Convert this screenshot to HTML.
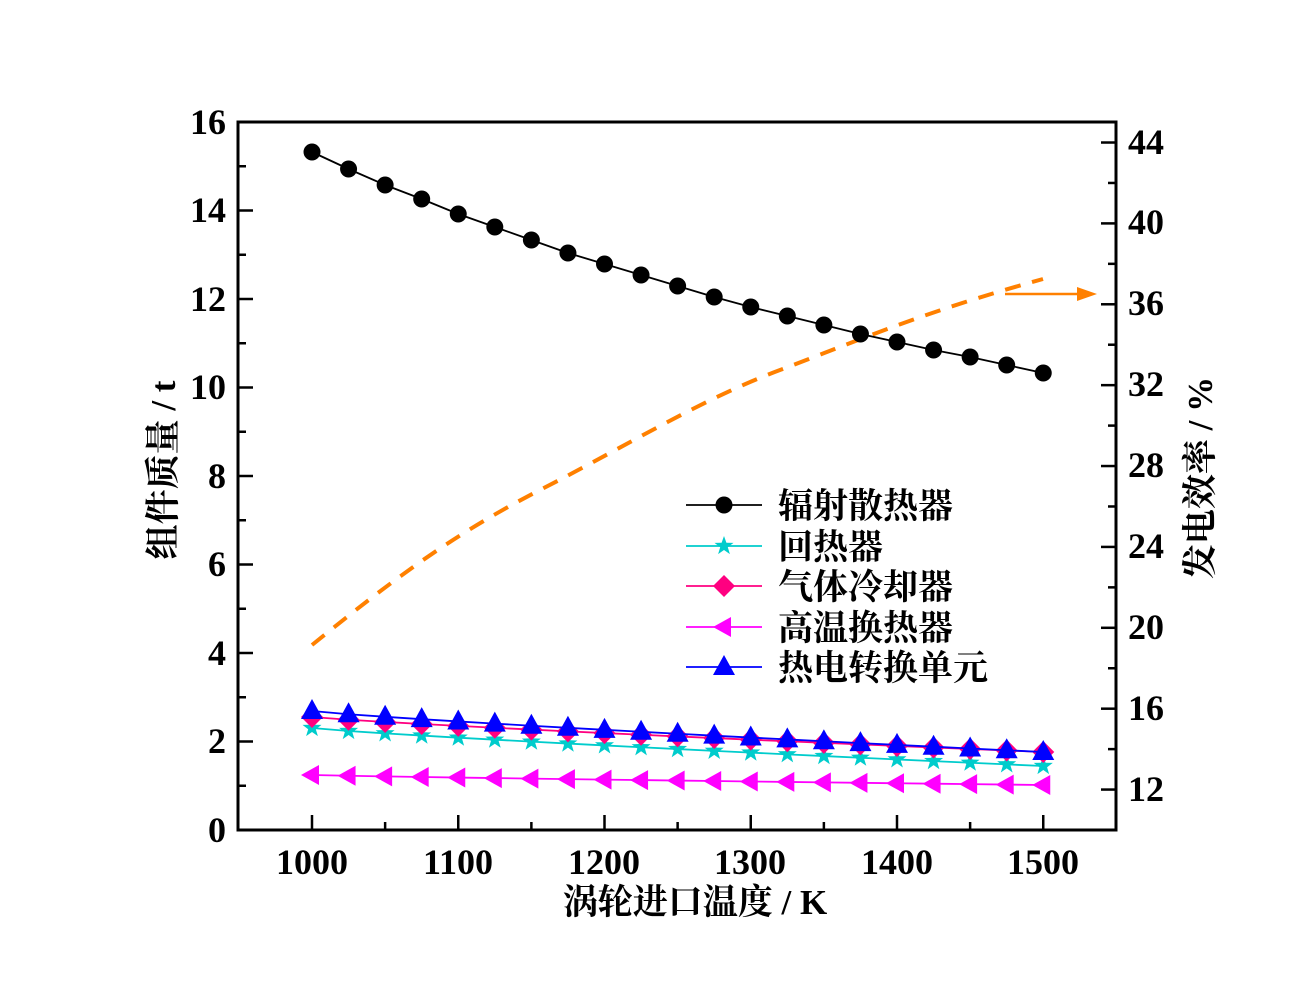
<!DOCTYPE html>
<html><head><meta charset="utf-8"><style>
html,body{margin:0;padding:0;background:#fff;}
svg{display:block;}
.t{font-family:"Liberation Serif","Noto Serif CJK SC",serif;font-size:36px;font-weight:bold;fill:#000;}
.c{font-family:"Liberation Serif","Noto Serif CJK SC",serif;font-size:35px;font-weight:bold;fill:#000;}
</style></head><body>
<svg id="s" width="1308" height="1004" viewBox="0 0 1308 1004" xmlns="http://www.w3.org/2000/svg">
<rect width="1308" height="1004" fill="#fff"/>
<g id="ticks" stroke="#000" stroke-width="2.5"></g>
<rect x="238" y="122" width="878" height="708" fill="none" stroke="#000" stroke-width="3"/>
<g class="t" text-anchor="end">
<text x="226" y="842">0</text><text x="226" y="753">2</text><text x="226" y="665">4</text><text x="226" y="576">6</text>
<text x="226" y="488">8</text><text x="226" y="399">10</text><text x="226" y="311">12</text><text x="226" y="222">14</text><text x="226" y="134">16</text>
</g>
<g class="t" text-anchor="start">
<text x="1128" y="801">12</text><text x="1128" y="720">16</text><text x="1128" y="639">20</text><text x="1128" y="558">24</text>
<text x="1128" y="477">28</text><text x="1128" y="396">32</text><text x="1128" y="315">36</text><text x="1128" y="234">40</text><text x="1128" y="154">44</text>
</g>
<g class="t" text-anchor="middle">
<text x="312" y="874">1000</text><text x="458" y="874">1100</text><text x="604" y="874">1200</text>
<text x="750" y="874">1300</text><text x="897" y="874">1400</text><text x="1043" y="874">1500</text>
</g>
<text class="c" x="695" y="914" text-anchor="middle">涡轮进口温度 / K</text>
<text class="c" transform="translate(175,470) rotate(-90)" text-anchor="middle">组件质量 / t</text>
<text class="c" transform="translate(1212,478) rotate(-90)" text-anchor="middle">发电效率 / %</text>
<path d="M312,645 C390,582 450,536 540,490 S700,400 780,370 S920,313 1043,279" fill="none" stroke="#ff8000" stroke-width="4" stroke-dasharray="16,12"/>
<line x1="1005" y1="294" x2="1080" y2="294" stroke="#ff8000" stroke-width="2.5"/>
<polygon points="1097,294 1077,287 1077,301" fill="#ff8000"/>
<g id="series"></g>
<g id="legend"></g>
<g class="c">
<text x="778" y="518">辐射散热器</text>
<text x="778" y="559">回热器</text>
<text x="778" y="599">气体冷却器</text>
<text x="778" y="640">高温换热器</text>
<text x="778" y="680">热电转换单元</text>
</g>
</svg>
<script>
var NS="http://www.w3.org/2000/svg";
function el(p,n,a){var e=document.createElementNS(NS,n);for(var k in a)e.setAttribute(k,a[k]);p.appendChild(e);return e;}
var T=document.getElementById('ticks');
function X(v){return 312+(v-1000)*1.4625;}
function YL(v){return 830-v*44.25;}
function YR(v){return 830-(v-10)*20.22;}
for(var v=0;v<=16;v++){var y=YL(v);el(T,'line',{x1:238,x2:238+(v%2?8:15),y1:y,y2:y});}
for(var v=12;v<=44;v+=2){var y=YR(v);el(T,'line',{x1:1116,x2:1116-(v%4?8:15),y1:y,y2:y});}
for(var v=1000;v<=1500;v+=50){var x=X(v);el(T,'line',{x1:x,x2:x,y1:830,y2:830-(v%100?8:15)});}
var blk=[152,169,185,199,214,227,240,253,264,275,286,297,307,316,325,334,342,350,357,365,373];
function lin(a,b,i,c){var t=i/20;return a+(b-a)*(Math.pow(t,c||0.85));}
var S=document.getElementById('series');
function mk(g,type,x,y,col){
 if(type=='o')el(g,'circle',{cx:x,cy:y,r:8.5,fill:col});
 else if(type=='s'){var p=[];for(var k=0;k<10;k++){var r=k%2?4:10,a=-Math.PI/2+k*Math.PI/5;p.push((x+r*Math.cos(a)).toFixed(1)+','+(y+r*Math.sin(a)).toFixed(1));}el(g,'polygon',{points:p.join(' '),fill:col});}
 else if(type=='d')el(g,'polygon',{points:(x)+','+(y-11)+' '+(x+11)+','+y+' '+x+','+(y+11)+' '+(x-11)+','+y,fill:col});
 else if(type=='l')el(g,'polygon',{points:(x-11)+','+y+' '+(x+7)+','+(y-10)+' '+(x+7)+','+(y+10),fill:col});
 else if(type=='t')el(g,'polygon',{points:x+','+(y-12)+' '+(x+11)+','+(y+8)+' '+(x-11)+','+(y+8),fill:col});
}
var ser=[
 {c:'#00cccc',m:'s',f:function(i){return lin(728,766,i);}},
 {c:'#ff0080',m:'d',f:function(i){return lin(717,752,i);}},
 {c:'#ff00ff',m:'l',f:function(i){return lin(775,785,i);}},
 {c:'#0000ff',m:'t',f:function(i){return lin(711,752,i);}},
 {c:'#000',m:'o',f:function(i){return blk[i];}}
];
ser.forEach(function(s){var pts=[];for(var i=0;i<=20;i++)pts.push([X(1000+25*i),s.f(i)]);
 el(S,'polyline',{points:pts.map(function(p){return p.join(',')}).join(' '),fill:'none',stroke:s.c,'stroke-width':1.8});
 pts.forEach(function(p){mk(S,s.m,p[0],p[1],s.c);});});
var L=document.getElementById('legend');
[[505,'#000','o'],[546,'#00cccc','s'],[586,'#ff0080','d'],[627,'#ff00ff','l'],[667,'#0000ff','t']].forEach(function(r){
 el(L,'line',{x1:686,x2:762,y1:r[0],y2:r[0],stroke:r[1],'stroke-width':1.8});mk(L,r[2],724,r[0],r[1]);});
</script>
</body></html>
